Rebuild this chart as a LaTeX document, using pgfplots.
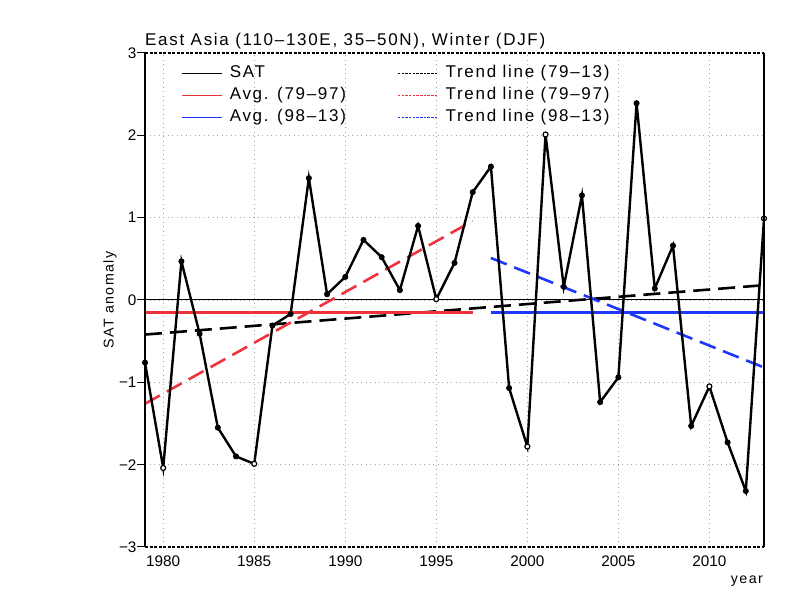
\documentclass[border=0pt]{standalone}
\usepackage{pgfplots}
\pgfplotsset{compat=1.18}
\usepackage{pgfplotstable}
\usepackage{fontspec}
\setmainfont{Liberation Sans}
\newfontfamily\spaced[LetterSpace=10]{Liberation Sans}
\definecolor{myred}{RGB}{240,50,60}
\definecolor{myblue}{RGB}{30,55,250}
\newcommand\f{\fontsize{15.3bp}{17bp}\selectfont}
\newcommand\lf{\spaced\fontsize{17bp}{19bp}\selectfont}
\newcommand\yf{\spaced\fontsize{14.2bp}{17bp}\selectfont}
\pgfplotstableread{
year sat
1979 -0.76
1980 -2.04
1981 0.47
1982 -0.41
1983 -1.55
1984 -1.90
1985 -1.99
1986 -0.31
1987 -0.17
1988 1.48
1989 0.07
1990 0.28
1991 0.73
1992 0.52
1993 0.12
1994 0.90
1995 0.01
1996 0.45
1997 1.31
1998 1.62
1999 -1.07
2000 -1.78
2001 2.01
2002 0.16
2003 1.27
2004 -1.24
2005 -0.94
2006 2.39
2007 0.14
2008 0.66
2009 -1.53
2010 -1.05
2011 -1.73
2012 -2.32
2013 0.99
}\sat
\pgfplotstableread{
year sat
1980 -2.04
1985 -1.99
1995 0.01
2000 -1.78
2001 2.01
2010 -1.05
2013 0.99
}\satopen
\begin{document}
\begin{tikzpicture}[x=1bp,y=1bp]
\useasboundingbox (0,0) rectangle (800,600);
\begin{axis}[
  at={(145bp,53bp)}, anchor=south west, scale only axis,
  width=619bp, height=494bp,
  xmin=1979, xmax=2013, ymin=-3, ymax=3,
  xtick={1980,1985,...,2010}, ytick={-3,-2,...,3},
  yticklabels={−3,−2,−1,0,1,2,3},
  tick pos=left, tick align=outside, major tick length=8bp,
  every tick/.style={black, line width=1pt},
  xtick style={draw=none},
  axis line style={draw=none},
  grid=major, major grid style={gray!70, line width=0.9pt, dash pattern=on 1bp off 3.5bp},
  /pgf/number format/1000 sep={},
  /pgf/number format/assume math mode=true,
  ticklabel style={font=\f},
  xticklabel style={yshift=3bp},
  yticklabel style={xshift=3bp},
  legend columns=2,
  legend cell align=left,
  legend style={draw=none, fill=none, font=\lf, at={(rel axis cs:0.058,0.981)}, anchor=north west,
    inner sep=0pt,
    nodes={text height=12bp, text depth=4bp, inner ysep=3bp, inner xsep=0bp},
    /tikz/every odd column/.append style={column sep=7bp},
    /tikz/every even column/.append style={column sep=51bp}},
]
\addlegendimage{legend image code/.code={\draw[black, line width=1.3bp] (0bp,0bp) -- (40bp,0bp);}}
\addlegendentry{SAT}
\addlegendimage{legend image code/.code={\draw[black, line width=1.3bp, dash pattern=on 2.5bp off 1.2bp] (0bp,0bp) -- (40bp,0bp);}}
\addlegendentry{Trend line (79–13)}
\addlegendimage{legend image code/.code={\draw[myred, line width=1.7bp] (0bp,0bp) -- (40bp,0bp);}}
\addlegendentry{Avg. (79–97)}
\addlegendimage{legend image code/.code={\draw[myred, line width=1.7bp, dash pattern=on 2.5bp off 1.2bp] (0bp,0bp) -- (40bp,0bp);}}
\addlegendentry{Trend line (79–97)}
\addlegendimage{legend image code/.code={\draw[myblue, line width=1.7bp] (0bp,0bp) -- (40bp,0bp);}}
\addlegendentry{Avg. (98–13)}
\addlegendimage{legend image code/.code={\draw[myblue, line width=1.7bp, dash pattern=on 2.5bp off 1.2bp] (0bp,0bp) -- (40bp,0bp);}}
\addlegendentry{Trend line (98–13)}
\addplot[forget plot, draw=black, line width=1pt] coordinates {(1979,0) (2013,0)};
\addplot[forget plot, draw=black, line width=2.6bp, dash pattern=on 17bp off 8bp] coordinates {(1979,-0.42) (2013,0.18)};
\addplot[forget plot, draw=myred, line width=2.6bp, dash pattern=on 17bp off 8bp] coordinates {(1979,-1.26) (1997,0.96)};
\addplot[forget plot, draw=myblue, line width=2.6bp, dash pattern=on 17bp off 8bp] coordinates {(1998,0.51) (2013,-0.82)};
\addplot[forget plot, draw=myred, line width=3bp] coordinates {(1979,-0.147) (1997,-0.147)};
\addplot[forget plot, draw=myblue, line width=3bp] coordinates {(1998,-0.151) (2013,-0.151)};
\addplot[forget plot, draw=black, line width=2.4bp, mark=*, mark size=2.6bp, mark options={solid, fill=black, line width=0.8pt}] table[x=year, y=sat] {\sat};
\addplot[forget plot, only marks, mark=*, mark size=2.4bp, mark options={fill=white, draw=black, line width=1pt}] table[x=year, y=sat] {\satopen};
\end{axis}
\draw[line width=2.6bp] (145,53) -- (145,547);
\draw[line width=2.6bp] (764,53) -- (764,547);
\draw[line width=1.8bp, dash pattern=on 3bp off 1.5bp] (145,547) -- (764,547);
\draw[line width=1.8bp, dash pattern=on 3bp off 1.5bp] (145,53) -- (764,53);
\node[anchor=base west, inner sep=0, font=\lf] at (145,554) {East Asia (110–130E, 35–50N), Winter (DJF)};
\node[rotate=90, font=\yf, inner sep=0] at (110,300) {SAT anomaly};
\node[anchor=base east, inner sep=0, font=\yf] at (763,16) {year};
\end{tikzpicture}
\end{document}
